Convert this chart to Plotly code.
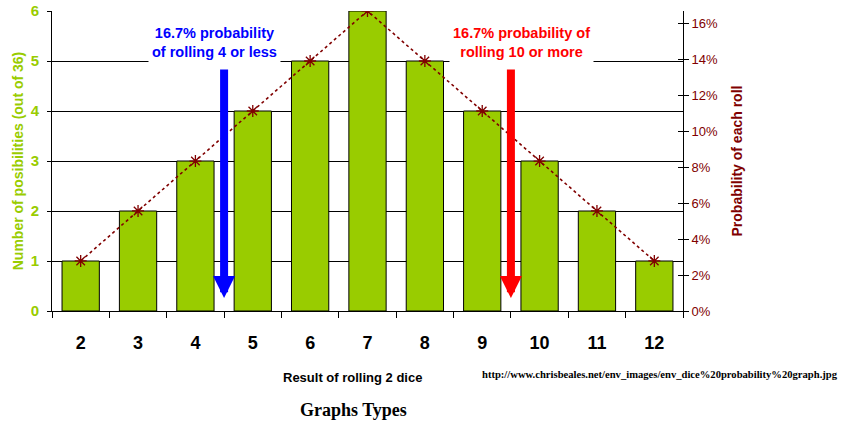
import plotly.graph_objects as go

# Two-dice outcomes and how many of the 36 combinations give each total
totals = ["2", "3", "4", "5", "6", "7", "8", "9", "10", "11", "12"]
counts = [1, 2, 3, 4, 5, 6, 5, 4, 3, 2, 1]
probabilities = [0.0278, 0.0556, 0.0833, 0.1111, 0.1389, 0.1667,
                 0.1389, 0.1111, 0.0833, 0.0556, 0.0278]

GREEN = "#99cc00"
DARKRED = "#800000"
FONT = "Liberation Sans, Arial, sans-serif"
SERIF = "Liberation Serif, Times New Roman, serif"

fig = go.Figure()

fig.add_trace(go.Bar(
    x=totals, y=counts,
    marker=dict(color=GREEN, line=dict(color="black", width=1)),
    width=0.65,
    yaxis="y",
    hoverinfo="skip",
))

fig.add_trace(go.Scatter(
    x=totals, y=probabilities,
    mode="lines+markers",
    line=dict(color=DARKRED, width=1.6, dash="dot"),
    marker=dict(symbol="asterisk-open", size=10, color=DARKRED,
                line=dict(color=DARKRED, width=1.3)),
    yaxis="y2",
    hoverinfo="skip",
))

ymax = 6
pmax = ymax / 36

fig.update_layout(
    width=843, height=425,
    margin=dict(l=52, r=160, t=11, b=114),
    paper_bgcolor="white", plot_bgcolor="white",
    showlegend=False,
    font=dict(family=FONT),
    xaxis=dict(
        type="category", automargin=False,
        range=[-0.5, len(totals) - 0.5],
        showline=True, linecolor="black", linewidth=1,
        ticks="outside", tickson="boundaries", ticklen=6, tickcolor="black",
        tickfont=dict(size=18, color="black", family=FONT, weight="bold"),
        ticklabelstandoff=15,
        showgrid=False,
    ),
    yaxis=dict(
        range=[0, ymax], dtick=1, automargin=False,
        showline=True, linecolor="black", linewidth=1,
        ticks="outside", ticklen=4, tickcolor="black",
        showgrid=True, gridcolor="black", gridwidth=1,
        zeroline=False,
        tickfont=dict(size=15, color=GREEN, family=FONT, weight="bold"),
        ticklabelstandoff=5,
        title=dict(text="<b>Number of posibilities (out of 36)</b>",
                   font=dict(size=14, color=GREEN), standoff=3),
    ),
    yaxis2=dict(
        range=[0, pmax], dtick=0.02, tickformat=".0%", automargin=False,
        overlaying="y", side="right",
        showline=True, linecolor="black", linewidth=1,
        ticks="outside", ticklen=5, tickcolor="black",
        showgrid=False, zeroline=False,
        tickfont=dict(size=13, color=DARKRED, family=FONT),
        title=dict(text="<b>Probability of each roll</b>",
                   font=dict(size=14, color=DARKRED), standoff=15),
    ),
    yaxis3=dict(
        range=[0, pmax], dtick=0.02, automargin=False,
        overlaying="y", side="right", anchor="x",
        ticks="inside", ticklen=5, tickcolor="black",
        showticklabels=False, showgrid=False, zeroline=False, showline=False,
    ),
)

# invisible trace to give the inside tick set its axis
fig.add_trace(go.Scatter(x=[totals[0]], y=[0], yaxis="y3", mode="markers",
                         marker=dict(opacity=0), hoverinfo="skip"))

# arrows between the tail outcomes: left of 5 and left of 10
low_split = totals.index("4") + 0.5
high_split = totals.index("9") + 0.5
for xpos, col in [(low_split, "#0000ff"), (high_split, "#ff0000")]:
    fig.add_annotation(
        x=xpos, y=0.26, xref="x", yref="y",
        ax=xpos, ay=4.86, axref="x", ayref="y",
        showarrow=True, arrowhead=2, arrowsize=0.55, arrowwidth=8,
        arrowcolor=col, text="",
    )

fig.add_annotation(
    x=2.34, y=5.38, xref="x", yref="y",
    text="<b>16.7% probability<br>of rolling 4 or less</b>",
    showarrow=False, font=dict(size=14.5, color="#0000ff", family=FONT),
    bgcolor="white", borderpad=3, align="center",
)
fig.add_annotation(
    x=7.69, y=5.38, xref="x", yref="y",
    text="<b>16.7% probability of<br>rolling 10 or more</b>",
    showarrow=False, font=dict(size=14.5, color="#ff0000", family=FONT),
    bgcolor="white", borderpad=3, align="center",
)

# x-axis title, set slightly left of the plot centre
fig.add_annotation(
    x=0.477, y=-0.22, xref="paper", yref="paper",
    xanchor="center", yanchor="middle",
    text="<b>Result of rolling 2 dice</b>",
    showarrow=False, font=dict(size=13, color="black", family=FONT),
)
fig.add_annotation(
    x=1.249, y=-0.21, xref="paper", yref="paper",
    xanchor="right", yanchor="middle",
    text="<b>http://www.chrisbeales.net/env_images/env_dice%20probability%20graph.jpg</b>",
    showarrow=False, font=dict(size=10.6, color="black", family=SERIF),
)
fig.add_annotation(
    x=0.478, y=-0.33, xref="paper", yref="paper",
    xanchor="center", yanchor="middle",
    text="<b>Graphs Types</b>",
    showarrow=False, font=dict(size=18, color="black", family=SERIF),
)

fig.write_html("out.html")
